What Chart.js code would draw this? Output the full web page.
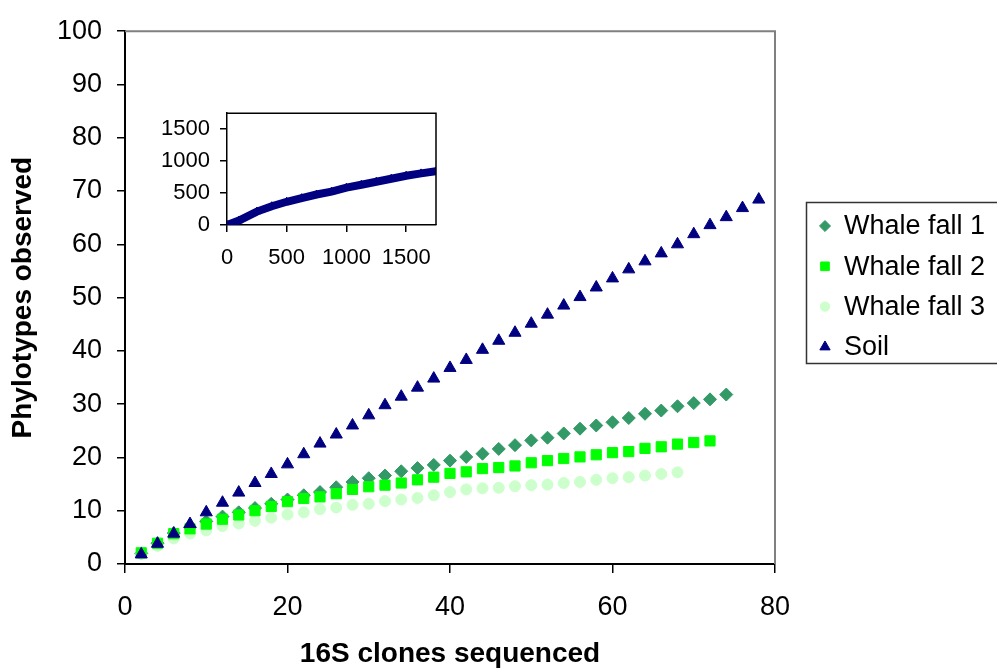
<!DOCTYPE html>
<html>
<head>
<meta charset="utf-8">
<script src="https://cdn.jsdelivr.net/npm/chart.js@4/dist/chart.umd.min.js"></script>
<style>
  html, body { margin: 0; padding: 0; background: #fff; }
  #wrap { position: relative; width: 997px; height: 671px; }
  #mainChart { position: absolute; left: 0; top: 0; }
  #insetChart { position: absolute; left: 150px; top: 90px; }
</style>
</head>
<body>
<div id="wrap">
  <canvas id="mainChart" width="997" height="671"></canvas>
  <canvas id="insetChart" width="300" height="185"></canvas>
</div>
<script>
/* ========= DATA ========= */

const clones = [2, 4, 6, 8, 10, 12, 14, 16, 18, 20, 22, 24, 26, 28, 30, 32, 34, 36, 38, 40,
  42, 44, 46, 48, 50, 52, 54, 56, 58, 60, 62, 64, 66, 68, 70, 72, 74, 76, 78];

const whaleFall1 = [2.0, 3.9, 5.8, 6.9, 8.0, 8.9, 9.7, 10.5, 11.3, 12.1, 12.9, 13.5, 14.4, 15.4,
  16.1, 16.6, 17.4, 18.0, 18.6, 19.4, 20.1, 20.7, 21.6, 22.3, 23.2, 23.7, 24.5, 25.4, 26.0,
  26.6, 27.4, 28.2, 28.8, 29.6, 30.2, 30.9, 31.8];

const whaleFall2 = [2.1, 3.9, 5.7, 6.6, 7.5, 8.4, 9.2, 10.0, 10.8, 11.7, 12.3, 12.6, 13.2, 14.0,
  14.5, 14.8, 15.2, 15.8, 16.3, 17.0, 17.3, 17.9, 18.1, 18.4, 19.0, 19.4, 19.8, 20.1, 20.5,
  20.9, 21.1, 21.7, 22.0, 22.5, 22.8, 23.1];

const whaleFall3 = [1.9, 3.4, 4.8, 5.7, 6.3, 7.1, 7.6, 8.1, 8.7, 9.3, 9.7, 10.3, 10.6, 11.1,
  11.3, 11.8, 12.1, 12.4, 12.9, 13.5, 14.0, 14.2, 14.3, 14.6, 14.8, 14.9, 15.2, 15.4, 15.8,
  16.1, 16.3, 16.6, 16.9, 17.2];

const soil = [1.8, 3.8, 5.7, 7.5, 9.7, 11.5, 13.4, 15.2, 16.9, 18.7, 20.6, 22.6, 24.3, 26.0,
  27.9, 29.8, 31.4, 33.1, 34.8, 36.8, 38.3, 40.2, 41.9, 43.4, 45.1, 46.8, 48.5, 50.1, 51.9,
  53.6, 55.3, 56.8, 58.3, 60.0, 61.9, 63.6, 65.1, 66.8, 68.4];

const seriesNames = ["Whale fall 1", "Whale fall 2", "Whale fall 3", "Soil"];

// inset: soil curve over the full clone library
const insetClones = [0, 100, 250, 375, 500, 625, 750, 875, 1000, 1125, 1250, 1375, 1500, 1625, 1750];
const insetSoil = [0, 70, 210, 294, 364, 420, 477, 523, 584, 630, 677, 724, 771, 808, 841];

const xTicks = [0, 20, 40, 60, 80];
const yTicks = [0, 10, 20, 30, 40, 50, 60, 70, 80, 90, 100];
const insetTicks = [0, 500, 1000, 1500];


/* ========= HELPERS ========= */

const FONT = 'Arial, "Liberation Sans", sans-serif';
Chart.defaults.font.family = FONT;
Chart.defaults.color = "#000";

function toPoints(xs, ys) {
  return ys.map((y, i) => ({ x: xs[i], y: y }));
}

function fixedTicks(list) {
  return function (scale) {
    scale.ticks = list.map(v => ({ value: v }));
  };
}

// plain numbers, no thousands comma
const plainLabel = v => String(v);


/* ========= PLUGINS ========= */

// grey top + right edge of the plot area
const plotFrame = {
  id: "plotFrame",
  beforeDatasetsDraw(chart) {
    const { ctx, chartArea: a } = chart;
    ctx.save();
    ctx.strokeStyle = "#808080";
    ctx.lineWidth = 2;
    ctx.beginPath();
    ctx.moveTo(a.left, a.top);
    ctx.lineTo(a.right, a.top);
    ctx.lineTo(a.right, a.bottom);
    ctx.stroke();
    ctx.restore();
  }
};

// boxed legend on the right, like the excel one
const boxLegend = {
  id: "boxLegend",
  afterDraw(chart) {
    const ctx = chart.ctx;
    ctx.save();
    ctx.strokeStyle = "#333";
    ctx.lineWidth = 1.5;
    ctx.strokeRect(806.5, 202.5, 220, 161);

    chart.data.datasets.forEach((ds, i) => {
      const y = 226 + i * 40.3;
      ctx.fillStyle = ds.backgroundColor;
      ctx.strokeStyle = ds.borderColor;
      ctx.lineWidth = 1;
      Chart.helpers.drawPoint(ctx, {
        pointStyle: ds.pointStyle,
        radius: ds.pointRadius * 0.85,
        rotation: 0,
        borderWidth: 1
      }, 825, y);

      ctx.fillStyle = "#000";
      ctx.font = "27px " + FONT;
      ctx.textAlign = "left";
      ctx.textBaseline = "middle";
      ctx.fillText(ds.label, 844, y + 1);
    });
    ctx.restore();
  }
};

// white inset background + black box
const insetFrame = {
  id: "insetFrame",
  beforeDraw(chart) {
    const { ctx, chartArea: a } = chart;
    ctx.save();
    ctx.fillStyle = "#fff";
    ctx.fillRect(a.left, a.top, a.right - a.left, a.bottom - a.top);
    ctx.restore();
  },
  afterDatasetsDraw(chart) {
    const { ctx, chartArea: a } = chart;
    ctx.save();
    ctx.strokeStyle = "#000";
    ctx.lineWidth = 1.5;
    ctx.beginPath();
    ctx.moveTo(a.left, a.top);
    ctx.lineTo(a.right, a.top);
    ctx.lineTo(a.right, a.bottom);
    ctx.stroke();
    ctx.restore();
  }
};


/* ========= MAIN CHART ========= */

function loadMainChart() {
  const canvas = document.getElementById("mainChart");

  const marker = (label, values, color, style, radius, order) => ({
    label: label,
    data: toPoints(clones, values),
    backgroundColor: color,
    borderColor: color,
    borderWidth: 1,
    pointStyle: style,
    pointRadius: radius,
    pointHoverRadius: radius,
    showLine: false,
    order: order
  });

  new Chart(canvas, {
    type: "scatter",
    data: {
      datasets: [
        marker(seriesNames[0], whaleFall1, "#339966", "rectRot", 6.5, 3),
        marker(seriesNames[1], whaleFall2, "#00ff00", "rect", 7.2, 1),
        marker(seriesNames[2], whaleFall3, "#ccffcc", "circle", 5.5, 2),
        marker(seriesNames[3], soil, "#000080", "triangle", 7, 0)
      ]
    },
    options: {
      responsive: false,
      animation: false,
      devicePixelRatio: 1,
      layout: { padding: { left: 0, top: 23, right: 222, bottom: 0 } },
      plugins: {
        legend: { display: false },
        tooltip: { enabled: false }
      },
      scales: {
        x: {
          type: "linear",
          min: 0,
          max: 80,
          afterBuildTicks: fixedTicks(xTicks),
          afterFit: s => { s.height = 107; },
          grid: { drawOnChartArea: false, tickLength: 9, color: "#000", lineWidth: 1.5 },
          border: { color: "#000", width: 2 },
          ticks: { font: { size: 27 }, padding: 18, maxRotation: 0, callback: plainLabel },
          title: {
            display: true,
            text: "16S clones sequenced",
            font: { size: 28, weight: "bold" },
            padding: { top: 0, bottom: 0 }
          }
        },
        y: {
          type: "linear",
          min: 0,
          max: 100,
          afterBuildTicks: fixedTicks(yTicks),
          afterFit: s => { s.width = 125; },
          grid: { drawOnChartArea: false, tickLength: 8, color: "#000", lineWidth: 1.5 },
          border: { color: "#000", width: 2 },
          ticks: { font: { size: 27 }, padding: 15, callback: plainLabel },
          title: {
            display: true,
            text: "Phylotypes observed",
            font: { size: 28, weight: "bold" },
            padding: { top: 6, bottom: 0 }
          }
        }
      }
    },
    plugins: [plotFrame, boxLegend]
  });
}


/* ========= INSET ========= */

function loadInsetChart() {
  const canvas = document.getElementById("insetChart");

  new Chart(canvas, {
    type: "scatter",
    data: {
      datasets: [{
        label: seriesNames[3],
        data: toPoints(insetClones, insetSoil),
        backgroundColor: "#000080",
        borderColor: "#000080",
        borderWidth: 8,
        pointStyle: "triangle",
        pointRadius: 4.5,
        pointBorderWidth: 1,
        showLine: true,
        tension: 0
      }]
    },
    options: {
      responsive: false,
      animation: false,
      devicePixelRatio: 1,
      layout: { padding: { left: 0, top: 10, right: 14, bottom: 0 } },
      plugins: {
        legend: { display: false },
        tooltip: { enabled: false }
      },
      scales: {
        x: {
          type: "linear",
          min: 0,
          max: 1750,
          afterBuildTicks: fixedTicks(insetTicks),
          afterFit: s => { s.height = 50; },
          grid: { drawOnChartArea: false, tickLength: 7, color: "#000", lineWidth: 1.5 },
          border: { color: "#000", width: 1.5 },
          ticks: { font: { size: 22 }, padding: 13, maxRotation: 0, callback: plainLabel }
        },
        y: {
          type: "linear",
          min: 0,
          max: 1750,
          afterBuildTicks: fixedTicks(insetTicks),
          afterFit: s => { s.width = 77; },
          grid: { drawOnChartArea: false, tickLength: 7, color: "#000", lineWidth: 1.5 },
          border: { color: "#000", width: 1.5 },
          ticks: { font: { size: 22 }, padding: 10, callback: plainLabel }
        }
      }
    },
    plugins: [insetFrame]
  });
}


/* ========= INIT ========= */

loadMainChart();
loadInsetChart();
</script>
</body>
</html>
